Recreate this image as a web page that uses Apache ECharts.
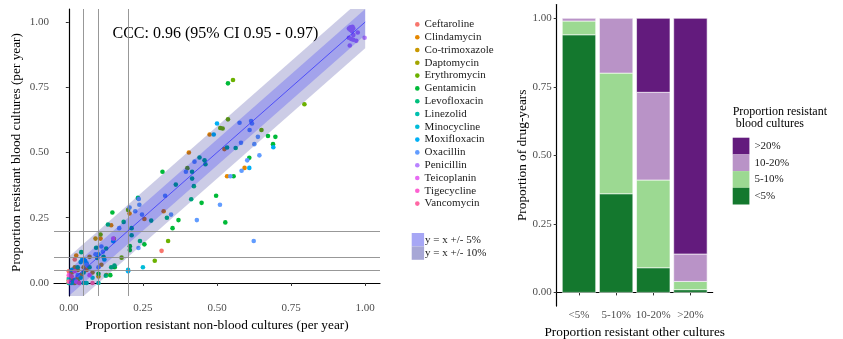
<!DOCTYPE html>
<html>
<head>
<meta charset="utf-8">
<script src="https://cdn.jsdelivr.net/npm/echarts@6/dist/echarts.min.js"></script>
<style>
  html, body { margin: 0; padding: 0; background: #fff; }
  #chart { width: 843px; height: 339px; }
</style>
</head>
<body>
<div id="chart"></div>
<script>
// ---- Scatter: proportion resistant, non-blood (x) vs blood (y) cultures, per drug-year ----
const drugNames = ['Ceftaroline', 'Clindamycin', 'Co-trimoxazole', 'Daptomycin', 'Erythromycin',
  'Gentamicin', 'Levofloxacin', 'Linezolid', 'Minocycline', 'Moxifloxacin', 'Oxacillin',
  'Penicillin', 'Teicoplanin', 'Tigecycline', 'Vancomycin'];
const drugColors = ['#F8766D', '#E58700', '#C99800', '#A3A500', '#6BB100', '#00BA38', '#00BF7D',
  '#00C0AF', '#00BCD8', '#00B0F6', '#619CFF', '#B983FF', '#E76BF3', '#FD61D1', '#FF67A4'];

const ceftaroline = [[0.0, 0.02], [0.005, 0.035], [0.012, 0.01], [0.0, 0.0], [0.313, 0.123], [0.02, 0.09], [0.0, 0.045], [0.015, 0.0]];
const clindamycin = [[0.475, 0.569], [0.405, 0.50], [0.534, 0.409], [0.593, 0.441], [0.143, 0.221], [0.107, 0.17],
  [0.32, 0.275], [0.255, 0.245], [0.205, 0.266], [0.025, 0.105], [0.525, 0.513], [0.06, 0.05], [0.03, 0.02]];
const cotrimoxazole = [[0.03, 0.05], [0.05, 0.06], [0.09, 0.17], [0.152, 0.169], [0.127, 0.03], [0.11, 0.07],
  [0.02, 0.06], [0.07, 0.1], [0.01, 0.04], [0.08, 0.04], [0.1, 0.025], [0.04, 0.03]];
const daptomycin = [[0.0, 0.0], [0.01, 0.01], [0.02, 0.0], [0.005, 0.02], [0.03, 0.01], [0.0, 0.01]];
const erythromycin = [[0.554, 0.778], [0.795, 0.685], [0.65, 0.586], [0.511, 0.594], [0.519, 0.592], [0.537, 0.627],
  [0.29, 0.085], [0.178, 0.097], [0.335, 0.161], [0.107, 0.186], [0.4, 0.44], [0.2, 0.28]];
const gentamicin = [[0.537, 0.765], [0.316, 0.426], [0.697, 0.56], [0.689, 0.532], [0.609, 0.48], [0.497, 0.334],
  [0.448, 0.307], [0.528, 0.232], [0.37, 0.241], [0.35, 0.21], [0.255, 0.148], [0.147, 0.27], [0.556, 0.409],
  [0.672, 0.563], [0.155, 0.06], [0.14, 0.03], [0.206, 0.141], [0.206, 0.126], [0.1, 0.035]];
const levofloxacin = [[0.361, 0.377], [0.422, 0.371], [0.416, 0.426], [0.416, 0.40], [0.413, 0.321], [0.534, 0.519],
  [0.563, 0.517], [0.441, 0.481], [0.458, 0.47], [0.461, 0.455], [0.278, 0.239], [0.233, 0.326], [0.185, 0.234],
  [0.212, 0.21], [0.24, 0.161], [0.212, 0.183], [0.331, 0.25], [0.132, 0.224], [0.092, 0.135], [0.154, 0.067],
  [0.143, 0.06], [0.125, 0.028], [0.126, 0.132], [0.117, 0.10], [0.096, 0.096], [0.042, 0.118], [0.07, 0.06],
  [0.03, 0.06], [0.05, 0.04]];
const linezolid = [[0.0, 0.0], [0.01, 0.0], [0.02, 0.01], [0.05, 0.0], [0.1, 0.0], [0.04, 0.02], [0.0, 0.015], [0.06, 0.0]];
const minocycline = [[0.25, 0.06], [0.2, 0.05], [0.04, 0.08], [0.05, 0.09], [0.01, 0.05], [0.08, 0.02], [0.12, 0.09]];
const moxifloxacin = [[0.69, 0.52], [0.609, 0.441], [0.2, 0.045], [0.045, 0.09], [0.055, 0.085], [0.06, 0.075],
  [0.1, 0.11], [0.15, 0.16], [0.5, 0.611], [0.489, 0.569]];
const oxacillin = [[0.624, 0.161], [0.432, 0.241], [0.51, 0.30], [0.643, 0.489], [0.602, 0.47], [0.638, 0.56],
  [0.576, 0.614], [0.615, 0.621], [0.618, 0.611], [0.61, 0.586], [0.581, 0.537], [0.626, 0.532], [0.424, 0.465],
  [0.395, 0.426], [0.583, 0.43], [0.545, 0.409], [0.325, 0.334], [0.345, 0.262], [0.247, 0.262], [0.224, 0.275],
  [0.205, 0.289], [0.238, 0.30], [0.17, 0.21], [0.235, 0.134], [0.236, 0.322], [0.11, 0.14], [0.115, 0.12],
  [0.09, 0.11], [0.1, 0.06], [0.06, 0.07], [0.03, 0.03]];
const penicillin = [[0.945, 0.975], [0.95, 0.98], [0.957, 0.982], [0.96, 0.975], [0.95, 0.97], [0.955, 0.966],
  [0.975, 0.96], [0.945, 0.94], [0.953, 0.935], [0.96, 0.932], [0.97, 0.928], [0.998, 0.94], [0.948, 0.91], [0.96, 0.95]];
const teicoplanin = [[0.15, 0.17], [0.07, 0.03], [0.025, 0.005]];
const tigecycline = [[0.0, 0.03], [0.02, 0.045]];
const vancomycin = [[0.0, 0.005], [0.01, 0.025], [0.035, 0.0], [0.08, 0.0]];

const drugPoints = [ceftaroline, clindamycin, cotrimoxazole, daptomycin, erythromycin, gentamicin, levofloxacin,
  linezolid, minocycline, moxifloxacin, oxacillin, penicillin, teicoplanin, tigecycline, vancomycin];

// agreement bands around y = x and the identity line itself
const bandHalfWidths = [0.10, 0.05];
const bandNames = ['y = x +/- 10%', 'y = x +/- 5%'];
const identityLine = [[0, 0], [1, 1]];
const thresholds = [0.05, 0.10, 0.20];
const scatterTicks = [0, 0.25, 0.5, 0.75, 1];
const concordanceText = 'CCC: 0.96 (95% CI 0.95 - 0.97)';

// ---- Stacked bars: blood-culture resistance class within each other-culture class ----
const otherCultureClasses = ['<5%', '5-10%', '10-20%', '>20%'];
const bloodClassNames = ['<5%', '5-10%', '10-20%', '>20%'];
const bloodLt5 = [0.94, 0.36, 0.09, 0.01];
const blood5to10 = [0.05, 0.44, 0.32, 0.03];
const blood10to20 = [0.01, 0.20, 0.32, 0.10];
const bloodGt20 = [0.00, 0.00, 0.27, 0.86];
const bloodClassColors = ['#14782e', '#9cd992', '#b993c7', '#631b7d'];
const barTicks = [0, 0.25, 0.5, 0.75, 1];

const SERIF = 'Liberation Serif';
const Y_MIN = -0.05, Y_MAX = 1.05;
const BAR_HALF = 0.45; // bars fill 90% of each category slot

// clip a polygon (data space) to the visible y range
function clipY(poly, lo, hi) {
  function clip(pts, inside, cross) {
    const out = [];
    for (let i = 0; i < pts.length; i++) {
      const a = pts[i], b = pts[(i + 1) % pts.length];
      const ia = inside(a), ib = inside(b);
      if (ia) out.push(a);
      if (ia !== ib) out.push(cross(a, b));
    }
    return out;
  }
  const at = (yv) => (a, b) => [a[0] + (b[0] - a[0]) * (yv - a[1]) / (b[1] - a[1]), yv];
  let p = clip(poly, (q) => q[1] >= lo, at(lo));
  p = clip(p, (q) => q[1] <= hi, at(hi));
  return p;
}

const bandFills = ['rgba(0,0,128,0.2)', 'rgba(0,0,255,0.2)'];
const bandKeyColors = ['#a7a7d6', '#a7a7f5'];

const chart = echarts.init(document.getElementById('chart'), null, { renderer: 'canvas' });

const series = [];
drugNames.forEach((name, i) => {
  series.push({
    name, type: 'scatter', xAxisIndex: 0, yAxisIndex: 0,
    data: drugPoints[i], symbolSize: 4.6, z: 2,
    itemStyle: { color: drugColors[i], opacity: 1 },
    emphasis: { disabled: true }
  });
});
bandHalfWidths.forEach((half, i) => {
  series.push({
    name: bandNames[i], type: 'custom', xAxisIndex: 0, yAxisIndex: 0, z: 3 + i,
    data: [[0, 0]], silent: true,
    itemStyle: { color: bandKeyColors[i] },
    renderItem: (params, api) => {
      const pts = clipY([[0, -half], [1, 1 - half], [1, 1 + half], [0, half]], Y_MIN, Y_MAX).map((p) => api.coord(p));
      return { type: 'polygon', shape: { points: pts }, style: { fill: bandFills[i] } };
    }
  });
});
series.push({
  name: 'identity', type: 'line', xAxisIndex: 0, yAxisIndex: 0, z: 6,
  data: identityLine, symbol: 'none', silent: true,
  lineStyle: { color: '#2a2aff', width: 0.7 },
  markLine: {
    silent: true, symbol: 'none', label: { show: false },
    lineStyle: { color: '#8c8c8c', width: 0.9, type: 'solid' },
    data: thresholds.map((t) => ({ xAxis: t })).concat(thresholds.map((t) => ({ yAxis: t })))
  }
});

// stacked segments: each item is [category position, lower edge, upper edge]
const barSeriesData = [bloodLt5, blood5to10, blood10to20, bloodGt20];
const running = otherCultureClasses.map(() => 0);
bloodClassNames.forEach((name, i) => {
  const segs = barSeriesData[i].map((v, j) => {
    const lo = running[j];
    running[j] += v;
    return [j + 1, lo, lo + v];
  });
  series.push({
    name, type: 'custom', xAxisIndex: 1, yAxisIndex: 1, silent: true,
    data: segs, encode: { x: 0, y: [1, 2] },
    itemStyle: { color: bloodClassColors[i] },
    renderItem: (params, api) => {
      const x = api.value(0), lo = api.value(1), hi = api.value(2);
      if (hi - lo <= 0) return null;
      const p0 = api.coord([x - BAR_HALF, lo]);
      const p1 = api.coord([x + BAR_HALF, hi]);
      return {
        type: 'rect',
        shape: { x: p0[0], y: p1[1], width: p1[0] - p0[0], height: p0[1] - p1[1] },
        style: { fill: bloodClassColors[i], stroke: '#ffffff', lineWidth: 0.6 }
      };
    }
  });
});

const axisBase = {
  axisLine: { lineStyle: { color: '#000', width: 1.2 } },
  splitLine: { show: false },
  nameLocation: 'middle',
  nameTextStyle: { fontFamily: SERIF, fontSize: 13.3, color: '#000' }
};

chart.setOption({
  animation: false,
  backgroundColor: '#fff',
  grid: [
    { left: 54, top: 9, width: 326, height: 287, containLabel: false, outerBoundsMode: 'none' },
    { left: 556.7, top: 4.6, width: 156, height: 301.5, containLabel: false, outerBoundsMode: 'none' }
  ],
  xAxis: [
    Object.assign({}, axisBase, {
      gridIndex: 0, type: 'value', min: -0.05, max: 1.05,
      name: 'Proportion resistant non-blood cultures (per year)', nameGap: 21,
      axisTick: { length: 3, lineStyle: { color: '#333' }, customValues: scatterTicks },
      axisLabel: { customValues: scatterTicks, formatter: (v) => v.toFixed(2), color: '#4d4d4d',
        fontFamily: SERIF, fontSize: 11, margin: 7 }
    }),
    Object.assign({}, axisBase, {
      gridIndex: 1, type: 'value', min: 0.4, max: 4.6,
      name: 'Proportion resistant other cultures', nameGap: 15,
      axisTick: { length: 3, lineStyle: { color: '#333' }, customValues: [1, 2, 3, 4] },
      axisLabel: { customValues: [1, 2, 3, 4], formatter: (v) => otherCultureClasses[Math.round(v) - 1],
        color: '#4d4d4d', fontFamily: SERIF, fontSize: 11, margin: 4 }
    })
  ],
  yAxis: [
    Object.assign({}, axisBase, {
      gridIndex: 0, type: 'value', min: Y_MIN, max: Y_MAX,
      name: 'Proportion resistant blood cultures (per year)', nameGap: 31,
      axisTick: { length: 3, lineStyle: { color: '#333' }, customValues: scatterTicks },
      axisLabel: { customValues: scatterTicks, formatter: (v) => v.toFixed(2), color: '#4d4d4d',
        fontFamily: SERIF, fontSize: 11, margin: 5 }
    }),
    Object.assign({}, axisBase, {
      gridIndex: 1, type: 'value', min: -0.05, max: 1.05,
      name: 'Proportion of drug-years', nameGap: 27,
      axisTick: { length: 3, lineStyle: { color: '#333' }, customValues: barTicks },
      axisLabel: { customValues: barTicks, formatter: (v) => v.toFixed(2), color: '#4d4d4d',
        fontFamily: SERIF, fontSize: 11, margin: 5 }
    })
  ],
  legend: [
    {
      data: drugNames, orient: 'vertical', left: 415, top: 18, padding: 0,
      itemWidth: 4.6, itemHeight: 4.6, itemGap: 0, icon: 'circle', selectedMode: false,
      textStyle: { fontFamily: SERIF, fontSize: 11, color: '#1a1a1a', lineHeight: 12.8 }
    },
    {
      data: [
        { name: bandNames[1], itemStyle: { color: bandKeyColors[1] } },
        { name: bandNames[0], itemStyle: { color: bandKeyColors[0] } }
      ],
      orient: 'vertical', left: 411.7, top: 233, padding: 0,
      itemWidth: 12.4, itemHeight: 13.4, itemGap: 0, icon: 'rect', selectedMode: false,
      textStyle: { fontFamily: SERIF, fontSize: 11, color: '#1a1a1a', padding: [0, 0, 0, -4], lineHeight: 13.4 }
    },
    {
      data: bloodClassNames.slice().reverse(), orient: 'vertical', left: 732.7, top: 137.7, padding: 0,
      itemWidth: 16.7, itemHeight: 16.7, itemGap: 0, icon: 'rect', selectedMode: false,
      textStyle: { fontFamily: SERIF, fontSize: 11, color: '#1a1a1a', lineHeight: 16.7 }
    }
  ],
  graphic: [
    {
      type: 'text', left: 112.5, top: 26, silent: true,
      style: { text: concordanceText, font: '16px "Liberation Serif"', fill: '#000' }
    },
    {
      type: 'text', left: 732.7, top: 106, silent: true,
      style: { text: 'Proportion resistant\n blood cultures', font: '12px "Liberation Serif"', fill: '#000', lineHeight: 12 }
    }
  ],
  series
});
</script>
</body>
</html>
